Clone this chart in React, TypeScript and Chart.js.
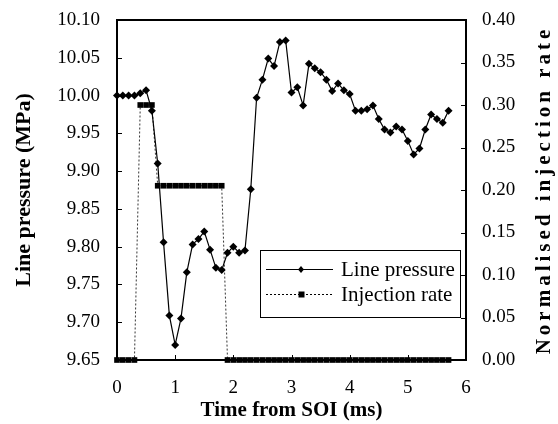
import React, { useEffect, useRef } from 'react';
import { Chart, registerables } from 'chart.js';

Chart.register(...registerables);

const timeMs = [
  0.0, 0.1, 0.2, 0.3, 0.4, 0.5, 0.6, 0.7, 0.8, 0.9,
  1.0, 1.1, 1.2, 1.3, 1.4, 1.5, 1.6, 1.7, 1.8, 1.9,
  2.0, 2.1, 2.2, 2.3, 2.4, 2.5, 2.6, 2.7, 2.8, 2.9,
  3.0, 3.1, 3.2, 3.3, 3.4, 3.5, 3.6, 3.7, 3.8, 3.9,
  4.0, 4.1, 4.2, 4.3, 4.4, 4.5, 4.6, 4.7, 4.8, 4.9,
  5.0, 5.1, 5.2, 5.3, 5.4, 5.5, 5.6, 5.7,
];

const linePressure = [
  10.0, 10.0, 10.0, 10.0, 10.003, 10.007, 9.98, 9.91, 9.806, 9.709,
  9.67, 9.705, 9.766, 9.803, 9.81, 9.82, 9.796, 9.772, 9.769, 9.792,
  9.8, 9.792, 9.795, 9.876, 9.997, 10.021, 10.049, 10.039, 10.071, 10.073,
  10.004, 10.011, 9.987, 10.042, 10.036, 10.031, 10.021, 10.006, 10.016, 10.007,
  10.002, 9.98, 9.98, 9.982, 9.987, 9.969, 9.955, 9.951, 9.959, 9.955,
  9.94, 9.922, 9.93, 9.955, 9.975, 9.969, 9.964, 9.98,
];

const injectionRate = [
  0, 0, 0, 0, 0.3, 0.3, 0.3, 0.205, 0.205, 0.205,
  0.205, 0.205, 0.205, 0.205, 0.205, 0.205, 0.205, 0.205, 0.205, 0,
  0, 0, 0, 0, 0, 0, 0, 0, 0, 0,
  0, 0, 0, 0, 0, 0, 0, 0, 0, 0,
  0, 0, 0, 0, 0, 0, 0, 0, 0, 0,
  0, 0, 0, 0, 0, 0, 0, 0,
];

const seriesNames = ['Line pressure', 'Injection rate'];
const xTitle = 'Time from SOI (ms)';
const yTitle = 'Line pressure (MPa)';
const y1Title = 'Normalised injection rate';

const SERIF = '"Liberation Serif", "Times New Roman", serif';

const zeroPad = (s: any) => {
  s.paddingTop = 0;
  s.paddingBottom = 0;
  s.paddingLeft = 0;
  s.paddingRight = 0;
};

const framePlugin = {
  id: 'frameAndLegend',
  afterDraw(chart: any) {
    const { ctx, chartArea } = chart;
    const { left, right, top, bottom } = chartArea;
    ctx.save();
    // inward tick marks
    ctx.strokeStyle = '#000';
    ctx.lineWidth = 1;
    const ys = chart.scales.y;
    ys.ticks.forEach((t: any) => {
      const py = Math.round(ys.getPixelForValue(t.value)) + 0.5;
      ctx.beginPath();
      ctx.moveTo(left, py);
      ctx.lineTo(left + 5, py);
      ctx.stroke();
    });
    const y1 = chart.scales.y1;
    y1.ticks.forEach((t: any) => {
      const py = Math.round(y1.getPixelForValue(t.value)) + 0.5;
      ctx.beginPath();
      ctx.moveTo(right, py);
      ctx.lineTo(right - 5, py);
      ctx.stroke();
    });
    const xs = chart.scales.x;
    xs.ticks.forEach((t: any) => {
      const px = Math.round(xs.getPixelForValue(t.value)) + 0.5;
      ctx.beginPath();
      ctx.moveTo(px, bottom);
      ctx.lineTo(px, bottom - 5);
      ctx.stroke();
    });
    // frame
    ctx.lineWidth = 2;
    ctx.strokeRect(left, top, right - left, bottom - top);

    // right axis title (spaced-out, reading upward)
    ctx.save();
    ctx.translate(545, (top + bottom) / 2 + 2);
    ctx.rotate(-Math.PI / 2);
    ctx.font = `bold 21px ${SERIF}`;
    (ctx as any).letterSpacing = '4px';
    ctx.fillStyle = '#000';
    ctx.textAlign = 'center';
    ctx.textBaseline = 'middle';
    ctx.fillText(y1Title, 2, 0);
    ctx.restore();

    // legend box
    const bx = 260, by = 250, bw = 200, bh = 67;
    ctx.fillStyle = '#fff';
    ctx.fillRect(bx, by, bw, bh);
    ctx.lineWidth = 1;
    ctx.strokeStyle = '#000';
    ctx.strokeRect(bx + 0.5, by + 0.5, bw, bh);

    const rows = [269, 294];
    ctx.beginPath();
    ctx.setLineDash([]);
    ctx.lineWidth = 1;
    ctx.moveTo(266, rows[0] + 0.5);
    ctx.lineTo(333, rows[0] + 0.5);
    ctx.stroke();
    ctx.fillStyle = '#000';
    ctx.beginPath();
    ctx.moveTo(301, rows[0] - 3);
    ctx.lineTo(304, rows[0] + 0.5);
    ctx.lineTo(301, rows[0] + 4);
    ctx.lineTo(298, rows[0] + 0.5);
    ctx.closePath();
    ctx.fill();
    ctx.beginPath();
    ctx.setLineDash([2, 2]);
    ctx.moveTo(266, rows[1] + 0.5);
    ctx.lineTo(333, rows[1] + 0.5);
    ctx.stroke();
    ctx.setLineDash([]);
    ctx.fillRect(298.5, rows[1] - 2.5, 6, 6);

    ctx.font = `21px ${SERIF}`;
    ctx.textBaseline = 'middle';
    ctx.textAlign = 'left';
    ctx.fillText(seriesNames[0], 341, rows[0] + 1);
    ctx.fillText(seriesNames[1], 341, rows[1] + 1);
    ctx.restore();
  },
};

export default function App() {
  const canvasRef = useRef<HTMLCanvasElement | null>(null);

  useEffect(() => {
    document.body.style.margin = '0';
    const canvas = canvasRef.current;
    if (!canvas) return;
    const pressurePts = timeMs.map((t, i) => ({ x: t, y: linePressure[i] }));
    const injectionPts = timeMs.map((t, i) => ({ x: t, y: injectionRate[i] }));

    const chart = new Chart(canvas, {
      type: 'line',
      data: {
        datasets: [
          {
            label: seriesNames[0],
            data: pressurePts,
            yAxisID: 'y',
            borderColor: '#000',
            backgroundColor: '#000',
            borderWidth: 1.2,
            pointStyle: 'rectRot',
            pointRadius: 4,
            pointBorderWidth: 0,
            pointBackgroundColor: '#000',
            tension: 0,
            clip: false,
            order: 1,
          },
          {
            label: seriesNames[1],
            data: injectionPts,
            yAxisID: 'y1',
            borderColor: '#000',
            backgroundColor: '#000',
            borderWidth: 0.8,
            borderDash: [2, 2],
            pointStyle: 'rect',
            pointRadius: 4,
            pointBorderWidth: 0,
            pointBackgroundColor: '#000',
            tension: 0,
            clip: false,
            order: 2,
          },
        ],
      },
      options: {
        animation: false,
        responsive: false,
        devicePixelRatio: 1,
        layout: { padding: { top: 20, left: 0, right: 0, bottom: 0 } },
        plugins: {
          legend: { display: false },
          tooltip: { enabled: false },
        },
        scales: {
          x: {
            type: 'linear',
            min: 0,
            max: 6,
            ticks: {
              stepSize: 1,
              color: '#000',
              font: { family: SERIF, size: 19 },
              padding: 17,
              maxRotation: 0,
            },
            grid: { display: false, drawTicks: false },
            border: { display: false },
            title: {
              display: true,
              text: xTitle,
              color: '#000',
              font: { family: SERIF, size: 21, weight: 'bold' },
              padding: { top: 0, bottom: 1 },
            },
            afterFit: (s: any) => { s.height = 64; zeroPad(s); },
          },
          y: {
            type: 'linear',
            position: 'left',
            min: 9.65,
            max: 10.1,
            ticks: {
              stepSize: 0.05,
              color: '#000',
              font: { family: SERIF, size: 19 },
              padding: 17,
              callback: (v: any) => Number(v).toFixed(2),
            },
            grid: { display: false, drawTicks: false },
            border: { display: false },
            title: {
              display: true,
              text: yTitle,
              color: '#000',
              font: { family: SERIF, size: 22, weight: 'bold' },
              padding: { top: 11, bottom: 0 },
            },
            afterFit: (s: any) => { s.width = 117; zeroPad(s); },
          },
          y1: {
            type: 'linear',
            position: 'right',
            min: 0,
            max: 0.4,
            ticks: {
              stepSize: 0.05,
              color: '#000',
              font: { family: SERIF, size: 19 },
              padding: 16,
              callback: (v: any) => Number(v).toFixed(2),
            },
            grid: { display: false, drawTicks: false },
            border: { display: false },
            title: { display: false, text: y1Title },
            afterFit: (s: any) => { s.width = 92; zeroPad(s); },
          },
        },
      },
      plugins: [framePlugin],
    } as any);

    return () => chart.destroy();
  }, []);

  return (
    <div style={{ position: 'fixed', left: 0, top: 0, width: 558, height: 424, background: '#fff' }}>
      <canvas ref={canvasRef} width={558} height={424} style={{ display: 'block' }} />
    </div>
  );
}
